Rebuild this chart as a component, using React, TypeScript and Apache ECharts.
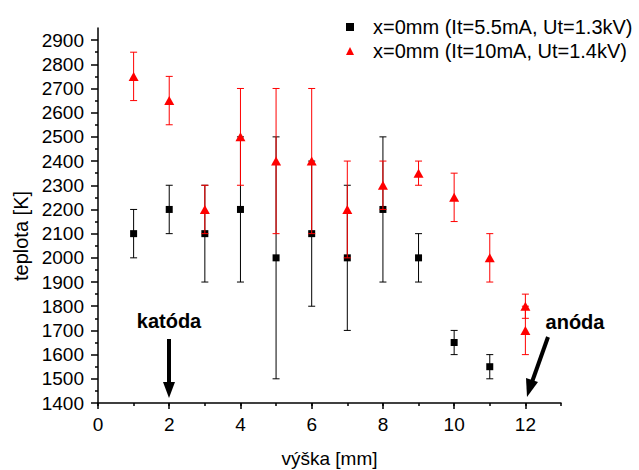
import React, { useEffect, useRef } from "react";
import * as echarts from "echarts";

const FONT = "'Liberation Sans', Arial, sans-serif";

const seriesNames = ["x=0mm (It=5.5mA, Ut=1.3kV)", "x=0mm (It=10mA, Ut=1.4kV)"];

// series 1 (black squares)
const s1X = [1, 2, 3, 4, 5, 6, 7, 8, 9, 10, 11];
const s1Y = [2100, 2200, 2100, 2200, 2000, 2100, 2000, 2200, 2000, 1650, 1550];
const s1Err = [100, 100, 200, 300, 500, 300, 300, 300, 100, 50, 50];

// series 2 (red triangles)
const s2X = [1, 2, 3, 4, 5, 6, 7, 8, 9, 10, 11, 12, 12];
const s2Y = [2750, 2650, 2200, 2500, 2400, 2400, 2200, 2300, 2350, 2250, 2000, 1800, 1700];
const s2Err = [100, 100, 100, 200, 300, 300, 200, 100, 50, 100, 100, 50, 100];

const yTickLabels = [1400, 1500, 1600, 1700, 1800, 1900, 2000, 2100, 2200, 2300, 2400, 2500, 2600, 2700, 2800, 2900];
const xTickLabels = [0, 2, 4, 6, 8, 10, 12];

const errRender = (color: string) => (params: any, api: any) => {
  const x = api.value(0);
  const lo = api.value(1);
  const hi = api.value(2);
  const a = api.coord([x, lo]);
  const b = api.coord([x, hi]);
  const hw = 3.5;
  const st = { stroke: color, lineWidth: 1 };
  return {
    type: "group",
    children: [
      { type: "line", shape: { x1: a[0], y1: a[1], x2: b[0], y2: b[1] }, style: st },
      { type: "line", shape: { x1: a[0] - hw, y1: a[1], x2: a[0] + hw, y2: a[1] }, style: st },
      { type: "line", shape: { x1: b[0] - hw, y1: b[1], x2: b[0] + hw, y2: b[1] }, style: st },
    ],
  };
};

export default function App() {
  const ref = useRef<HTMLDivElement>(null);
  useEffect(() => {
    if (!ref.current) return;
    const chart = echarts.init(ref.current, null, { renderer: "svg" });
    const e1 = s1X.map((x, i) => [x, s1Y[i] - s1Err[i], s1Y[i] + s1Err[i]]);
    const e2 = s2X.map((x, i) => [x, s2Y[i] - s2Err[i], s2Y[i] + s2Err[i]]);
    const axisLineStyle = { color: "#000", width: 1.5 };
    const tickStyle = { color: "#000", width: 1.5 };
    const fmt = (v: number) => String(v);
    chart.setOption({
      animation: false,
      backgroundColor: "#fff",
      textStyle: { fontFamily: FONT },
      grid: { left: 98, right: 78, top: 28, bottom: 67, containLabel: false, outerBoundsMode: "none" },
      legend: {
        orient: "vertical",
        left: 341,
        top: 12,
        itemWidth: 8,
        itemHeight: 8,
        itemGap: 4,
        selectedMode: false,
        textStyle: { fontFamily: FONT, fontSize: 20, color: "#000", lineHeight: 20, padding: [0, 0, 0, 14] },
        data: [
          { name: seriesNames[0], icon: "rect", itemStyle: { color: "#000" } },
          { name: seriesNames[1], icon: "triangle", itemStyle: { color: "#ff0000" } },
        ],
      },
      xAxis: [
        {
          type: "value",
          position: "bottom",
          min: 0,
          max: 13,
          interval: 1,
          name: "výška [mm]",
          nameLocation: "middle",
          nameGap: 46,
          nameTextStyle: { fontFamily: FONT, fontSize: 19, color: "#000" },
          splitLine: { show: false },
          axisLine: { show: true, onZero: false, lineStyle: axisLineStyle },
          axisTick: { show: true, length: 3, lineStyle: tickStyle },
          axisLabel: {
            customValues: xTickLabels,
            formatter: fmt,
            margin: 12,
            fontFamily: FONT,
            fontSize: 19,
            color: "#000",
          },
        },
        {
          type: "value",
          position: "bottom",
          offset: 0,
          min: 0,
          max: 13,
          interval: 2,
          splitLine: { show: false },
          axisLine: { show: false, onZero: false },
          axisTick: { show: true, length: 6, customValues: xTickLabels, lineStyle: tickStyle },
          axisLabel: { show: false },
        },
      ],
      yAxis: {
        type: "value",
        min: 1400,
        max: 2950,
        interval: 100,
        splitLine: { show: false },
        axisLine: { show: true, onZero: false, lineStyle: axisLineStyle },
        axisTick: { show: true, length: 7, customValues: yTickLabels, lineStyle: tickStyle },
        minorTick: { show: true, splitNumber: 2, length: 3, lineStyle: tickStyle },
        axisLabel: {
          customValues: yTickLabels,
          formatter: fmt,
          margin: 14,
          fontFamily: FONT,
          fontSize: 19,
          color: "#000",
        },
      },
      series: [
        {
          type: "custom",
          name: "err1",
          renderItem: errRender("#000"),
          encode: { x: 0, y: [1, 2] },
          data: e1,
          z: 2,
        },
        {
          type: "scatter",
          name: seriesNames[0],
          symbol: "rect",
          symbolSize: 7,
          itemStyle: { color: "#000", opacity: 1 },
          data: s1X.map((x, i) => [x, s1Y[i]]),
          z: 3,
        },
        {
          type: "custom",
          name: "err2",
          renderItem: errRender("#ff0000"),
          encode: { x: 0, y: [1, 2] },
          data: e2,
          z: 4,
        },
        {
          type: "scatter",
          name: seriesNames[1],
          symbol: "triangle",
          symbolSize: [10, 9],
          itemStyle: { color: "#ff0000", opacity: 1 },
          data: s2X.map((x, i) => [x, s2Y[i]]),
          z: 5,
        },
      ],
      graphic: [
        {
          type: "text",
          x: 21,
          y: 236,
          rotation: Math.PI / 2,
          style: { text: "teplota [K]", font: `20px ${FONT}`, fill: "#000", align: "center", verticalAlign: "middle" },
        },
        {
          type: "text",
          x: 169,
          y: 321,
          style: { text: "katóda", font: `bold 20px ${FONT}`, fill: "#000", align: "center", verticalAlign: "middle" },
        },
        {
          type: "text",
          x: 575,
          y: 322,
          style: { text: "anóda", font: `bold 20px ${FONT}`, fill: "#000", align: "center", verticalAlign: "middle" },
        },
        {
          type: "line",
          shape: { x1: 169, y1: 339, x2: 169, y2: 384 },
          style: { stroke: "#000", lineWidth: 4 },
        },
        {
          type: "polygon",
          shape: { points: [[163, 382], [175, 382], [169, 398]] },
          style: { fill: "#000" },
        },
        {
          type: "line",
          shape: { x1: 548, y1: 337, x2: 532, y2: 382 },
          style: { stroke: "#000", lineWidth: 4 },
        },
        {
          type: "polygon",
          shape: { points: [[526, 378], [538, 382], [527, 397]] },
          style: { fill: "#000" },
        },
      ],
    });
    return () => chart.dispose();
  }, []);
  return <div ref={ref} style={{ position: "fixed", left: 0, top: 0, width: 639, height: 470 }} />;
}
